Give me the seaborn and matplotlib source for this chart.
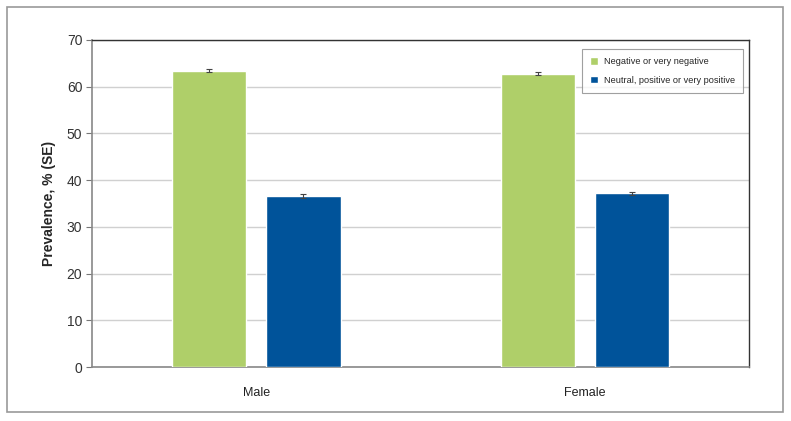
import numpy as np
import pandas as pd
import matplotlib
matplotlib.use("Agg")
import matplotlib.pyplot as plt
import seaborn as sns
from matplotlib.patches import Rectangle

sexes = ["Male", "Female"]
groups = ["Negative or very negative", "Neutral, positive or very positive"]
neg_values = [63.4, 62.8]
pos_values = [36.6, 37.2]
neg_se = [0.35, 0.35]
pos_se = [0.35, 0.35]
colors = ["#afcf69", "#00539a"]
yticks = [0, 10, 20, 30, 40, 50, 60, 70]


def main():
    sns.set_theme(style="white")
    plt.rcParams["font.family"] = ["Liberation Sans", "DejaVu Sans"]

    df = pd.DataFrame({
        "Sex": sexes * 2,
        "Group": [groups[0]] * 2 + [groups[1]] * 2,
        "Value": neg_values + pos_values,
        "SE": neg_se + pos_se,
    })

    fig = plt.figure(figsize=(7.91, 4.21), dpi=100, facecolor="white")
    ax = fig.add_axes([0.1163, 0.128, 0.8307, 0.777])

    sns.barplot(data=df, x="Sex", y="Value", hue="Group", order=sexes,
                hue_order=groups, palette=colors, width=0.573, gap=0.21,
                saturation=1, errorbar=None, ax=ax, zorder=3)

    # error bars placed on the drawn bars
    for cont, grp in zip(ax.containers, groups):
        sub = df[df["Group"] == grp].set_index("Sex").loc[sexes]
        xs = [p.get_x() + p.get_width() / 2 for p in cont.patches]
        ax.errorbar(xs, sub["Value"].values, yerr=sub["SE"].values, fmt="none",
                    ecolor="#444444", elinewidth=0.8, capsize=2.5, capthick=0.8, zorder=4)

    ax.set_ylim(0, 70)
    ax.set_xlim(-0.5, 1.5)
    ax.set_yticks(yticks)
    ax.yaxis.grid(True, color="#d0d0d0", linewidth=1, zorder=0)
    ax.set_axisbelow(True)
    ax.set_xlabel("")
    ax.set_ylabel("Prevalence, % (SE)", fontsize=10, fontweight="bold", labelpad=8)
    ax.tick_params(axis="y", left=True, length=4, width=0.8, color="#777777",
                   labelsize=10, labelcolor="#333333", pad=3)
    ax.tick_params(axis="x", bottom=False, labelsize=9, labelcolor="#222222", pad=8)

    for side in ["left", "bottom"]:
        ax.spines[side].set_color("#888888")
        ax.spines[side].set_linewidth(1.2)
    for side in ["top", "right"]:
        ax.spines[side].set_color("#333333")
        ax.spines[side].set_linewidth(1)

    leg = ax.legend(loc="upper right", bbox_to_anchor=(0.991, 0.972), fontsize=6.6,
                    frameon=True, fancybox=False, edgecolor="#888888",
                    handlelength=0.9, handleheight=0.9, borderpad=0.9,
                    labelspacing=1.0, handletextpad=0.6, borderaxespad=0)
    leg.get_frame().set_linewidth(0.8)

    fig.patches.append(Rectangle((0.009, 0.021), 0.981, 0.962, transform=fig.transFigure,
                                 fill=False, edgecolor="#999999", linewidth=1.2))

    fig.savefig("out.png", dpi=100, facecolor="white")
    plt.close(fig)


if __name__ == "__main__":
    main()
